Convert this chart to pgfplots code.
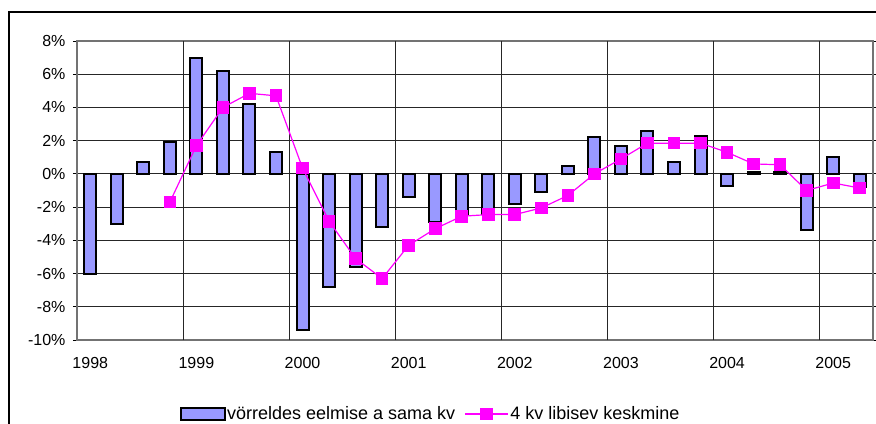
\documentclass[border=0pt]{standalone}
\usepackage{fontspec}
\setmainfont{Liberation Sans}
\usepackage{pgfplots}
\pgfplotsset{compat=1.18}
\definecolor{barfill}{HTML}{9999FF}
\definecolor{linemag}{HTML}{FF00FF}
\pgfplotsset{
  barlegend/.style={legend image code/.code={\draw[fill=barfill, draw=black, line width=1.3pt] (0pt,-4.5pt) rectangle (33pt,4.5pt);}},
  linelegend/.style={legend image code/.code={\draw[##1, mark repeat=2, mark phase=2] plot coordinates {(0pt,0pt) (16pt,0pt) (32pt,0pt)};}},
}
\begin{document}
\fontsize{12}{14}\selectfont
\begin{tikzpicture}
\useasboundingbox (0,0) rectangle (657pt,-318pt);
\draw[black, line width=0.8pt] (6.75pt,-330pt) -- (6.75pt,-9pt) -- (670pt,-9pt);
\begin{axis}[
  at={(57.75pt,-255pt)}, anchor=south west,
  scale only axis, width=597pt, height=224.25pt,
  xmin=-0.5, xmax=29.5, ymin=-10, ymax=8,
  ytick={-10,-8,...,8},
  yticklabels={-10\%,-8\%,-6\%,-4\%,-2\%,0\%,2\%,4\%,6\%,8\%},
  xtick={0,4,...,28},
  xticklabels={1998,1999,2000,2001,2002,2003,2004,2005},
  ticklabel style={font=\fontsize{12}{14}\selectfont},
  x tick style={draw=none},
  y tick style={black, line width=0.7pt},
  ytick align=outside, major tick length=3pt,
  xticklabel style={yshift=-8.5pt},
  yticklabel style={xshift=-1.5pt},
  ymajorgrids,
  extra x ticks={3.5,7.5,...,27.5},
  extra x tick labels={},
  extra x tick style={grid=major, tick style={draw=none}},
  major grid style={black!85, line width=0.7pt},
  axis line style={black!55, line width=1pt},
  clip=false,
  legend style={at={(0.444,-0.2475)}, anchor=center, draw=none, fill=none,
    legend columns=2, inner sep=0pt,
    font=\fontsize{13.5}{15}\selectfont,
    nodes={inner sep=1.2pt},
    /tikz/every even column/.append style={column sep=6pt}},
]
\addplot[ybar, bar width=0.45, fill=barfill, draw=black, line width=1.5pt, barlegend]
coordinates {
(0,-6.0) (1,-3.0) (2,0.7) (3,1.9) (4,7.0) (5,6.2) (6,4.2) (7,1.3)
(8,-9.4) (9,-6.8) (10,-5.6) (11,-3.2) (12,-1.4) (13,-2.9) (14,-2.4) (15,-2.4)
(16,-1.8) (17,-1.1) (18,0.5) (19,2.2) (20,1.7) (21,2.6) (22,0.7) (23,2.3)
(24,-0.7) (25,0.1) (26,0.1) (27,-3.4) (28,1.0) (29,-0.8)
};
\addplot[linemag, line width=0.9pt, mark=square*, mark size=4.3pt, mark options={solid, fill=linemag, draw=linemag}, linelegend]
coordinates {
(3,-1.7) (4,1.7) (5,4.0) (6,4.85) (7,4.7)
(8,0.35) (9,-2.85) (10,-5.1) (11,-6.3) (12,-4.3) (13,-3.3) (14,-2.55) (15,-2.45)
(16,-2.45) (17,-2.05) (18,-1.3) (19,0.0) (20,0.9) (21,1.85) (22,1.85) (23,1.85)
(24,1.3) (25,0.6) (26,0.55) (27,-1.0) (28,-0.55) (29,-0.85)
};
\legend{vörreldes eelmise a sama kv, 4 kv libisev keskmine}
\end{axis}
\end{tikzpicture}
\end{document}
